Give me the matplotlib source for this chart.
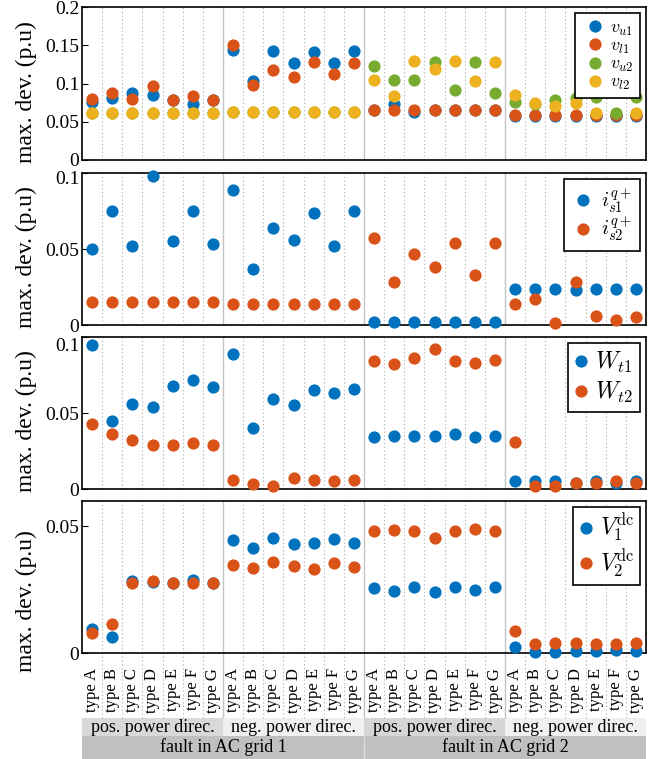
import numpy as np
import matplotlib
matplotlib.use('Agg')
import matplotlib.pyplot as plt
from matplotlib.patches import Rectangle
from matplotlib.transforms import ScaledTranslation

plt.rcParams['font.family'] = 'Liberation Serif'
plt.rcParams['mathtext.fontset'] = 'cm'

types = ['type A', 'type B', 'type C', 'type D', 'type E', 'type F', 'type G']
directions = ['pos. power direc.', 'neg. power direc.', 'pos. power direc.', 'neg. power direc.']
faults = ['fault in AC grid 1', 'fault in AC grid 2']

# max. deviations, 28 cases: (grid 1 pos, grid 1 neg, grid 2 pos, grid 2 neg) x types A-G
v_u1 = [0.076, 0.081, 0.087, 0.085, 0.078, 0.073, 0.078,
        0.144, 0.103, 0.142, 0.127, 0.141, 0.127, 0.143,
        0.065, 0.073, 0.063, 0.065, 0.065, 0.065, 0.065,
        0.058, 0.058, 0.058, 0.058, 0.058, 0.058, 0.058]
v_l1 = [0.080, 0.088, 0.080, 0.097, 0.078, 0.084, 0.078,
        0.150, 0.098, 0.117, 0.109, 0.128, 0.113, 0.127,
        0.065, 0.065, 0.065, 0.065, 0.065, 0.065, 0.065,
        0.059, 0.059, 0.059, 0.059, 0.059, 0.059, 0.059]
v_u2 = [0.061, 0.061, 0.061, 0.061, 0.061, 0.061, 0.061,
        0.063, 0.063, 0.063, 0.063, 0.063, 0.063, 0.063,
        0.123, 0.104, 0.104, 0.128, 0.092, 0.128, 0.087,
        0.076, 0.073, 0.079, 0.081, 0.082, 0.062, 0.082]
v_l2 = [0.061, 0.061, 0.061, 0.061, 0.061, 0.061, 0.061,
        0.063, 0.063, 0.063, 0.063, 0.063, 0.063, 0.063,
        0.104, 0.084, 0.130, 0.119, 0.129, 0.103, 0.128,
        0.085, 0.075, 0.071, 0.074, 0.062, 0.089, 0.062]

i_s1 = [0.050, 0.075, 0.052, 0.098, 0.055, 0.075, 0.053,
        0.089, 0.037, 0.064, 0.056, 0.074, 0.052, 0.075,
        0.002, 0.002, 0.002, 0.002, 0.002, 0.002, 0.002,
        0.024, 0.024, 0.024, 0.023, 0.024, 0.024, 0.024]
i_s2 = [0.015, 0.015, 0.015, 0.015, 0.015, 0.015, 0.015,
        0.014, 0.014, 0.014, 0.014, 0.014, 0.014, 0.014,
        0.057, 0.028, 0.047, 0.038, 0.054, 0.033, 0.054,
        0.014, 0.017, 0.001, 0.028, 0.006, 0.003, 0.005]

W_t1 = [0.095, 0.045, 0.056, 0.054, 0.068, 0.072, 0.067,
        0.089, 0.040, 0.059, 0.055, 0.065, 0.063, 0.066,
        0.034, 0.035, 0.035, 0.035, 0.036, 0.034, 0.035,
        0.005, 0.005, 0.005, 0.004, 0.005, 0.004, 0.005]
W_t2 = [0.043, 0.036, 0.032, 0.029, 0.029, 0.030, 0.029,
        0.006, 0.003, 0.002, 0.007, 0.006, 0.005, 0.006,
        0.084, 0.082, 0.086, 0.092, 0.084, 0.083, 0.085,
        0.031, 0.002, 0.002, 0.004, 0.004, 0.005, 0.004]

V1_dc = [0.0094, 0.0065, 0.0284, 0.0281, 0.0276, 0.0288, 0.0276,
         0.0445, 0.0416, 0.0455, 0.0432, 0.0435, 0.0449, 0.0435,
         0.0255, 0.0246, 0.0262, 0.0242, 0.0259, 0.0249, 0.0262,
         0.0022, 0.0004, 0.0004, 0.0007, 0.0007, 0.0013, 0.0007]
V2_dc = [0.0079, 0.0114, 0.0275, 0.0284, 0.0275, 0.0275, 0.0275,
         0.0347, 0.0334, 0.0360, 0.0344, 0.0331, 0.0357, 0.0338,
         0.0482, 0.0486, 0.0483, 0.0452, 0.0483, 0.0488, 0.0483,
         0.0085, 0.0035, 0.0039, 0.0039, 0.0037, 0.0037, 0.0039]

blue, red, green, yellow = '#0072BD', '#D95319', '#77AC30', '#EDB120'

# series, legend labels, colours, y max, y ticks, shift of top tick label (px),
# legend (fontsize, labelspacing, borderpad, handlelength, handletextpad)
panels = [
    ([v_u1, v_l1, v_u2, v_l2], [r'$v_{u1}$', r'$v_{l1}$', r'$v_{u2}$', r'$v_{l2}$'],
     [blue, red, green, yellow], 0.2, [0, 0.05, 0.1, 0.15, 0.2], 0,
     (13, 0.0, 0.35, 1.41, 0.13)),
    ([i_s1, i_s2], [r'$i_{s1}^{q+}$', r'$i_{s2}^{q+}$'], [blue, red], 0.1, [0, 0.05, 0.1], 5,
     (15, 0.0, 0.35, 1.1, 0.32)),
    ([W_t1, W_t2], [r'$W_{t1}$', r'$W_{t2}$'], [blue, red], 0.1, [0, 0.05, 0.1], 7,
     (17, 0.19, 0.3, 0.5, 0.34)),
    ([V1_dc, V2_dc], [r'$V_1^{\mathrm{dc}}$', r'$V_2^{\mathrm{dc}}$'], [blue, red], 0.06, [0, 0.05], 0,
     (17, 0.15, 0.2, 0.7, 0.24)),
]

W, H = 670, 759
fig = plt.figure(figsize=(W / 100, H / 100), dpi=100)
x = np.arange(1, 29)
left, width = 82 / W, 564 / W
tops = [7, 173, 337, 501]
bottoms = [160, 325, 489, 653]
minor_b = [b + 0.5 for b in range(1, 28) if b % 7 != 0]
major_b = [7.5, 14.5, 21.5]

for k, (series, labels, colors, ymax, yticks, shift, lg) in enumerate(panels):
    h = bottoms[k] - tops[k]
    ax = fig.add_axes([left, 1 - bottoms[k] / H, width, h / H])
    ax.vlines(minor_b, 0, 1, transform=ax.get_xaxis_transform(), colors='#b8b8b8',
              linestyles=(0, (1.2, 2.2)), linewidth=0.8, zorder=0.5)
    ax.vlines(major_b, 0, 1, transform=ax.get_xaxis_transform(), colors='#c4c4c4',
              linewidth=1.0, zorder=0.5)
    for s, lab, c in zip(series, labels, colors):
        ax.plot(x, s, 'o', color=c, markersize=8.8, markeredgewidth=0, label=lab,
                clip_on=False, zorder=3)
    ax.set_xlim(0.5, 28.5)
    ax.set_ylim(0, ymax)
    ax.set_yticks(yticks)
    ax.set_yticklabels(['%g' % t for t in yticks])
    ax.tick_params(axis='y', direction='in', length=4, labelsize=14, pad=2)
    ax.tick_params(axis='x', length=0)
    for sp in ax.spines.values():
        sp.set_linewidth(1.2)
    fs, lsp, bpad, hlen, htp = lg
    leg = ax.legend(loc='upper right', fontsize=fs, numpoints=1, handlelength=hlen,
                    handletextpad=htp, labelspacing=lsp, borderpad=bpad,
                    fancybox=False, framealpha=1, borderaxespad=0.27 * 17 / fs)
    leg.get_frame().set_edgecolor('black')
    leg.get_frame().set_linewidth(1.2)

    lbl = ax.set_ylabel('max. dev. (p.u)', fontsize=17)
    lbl.set_ha('left')
    if k < 3:
        ax.yaxis.set_label_coords(-0.08, -3 / h)
        # the panel above hides the top end of this label
        fig.add_artist(Rectangle((12 / W, 1 - (tops[k] + 13) / H), 36 / W, 18 / H,
                                 transform=fig.transFigure, facecolor='white',
                                 edgecolor='none', zorder=10))
        ax.set_xticks([])
    else:
        ax.yaxis.set_label_coords(-0.08, -19 / h)
        ax.set_xticks(x)
        ax.set_xticklabels(types * 4, rotation=90, fontsize=12)
        ax.tick_params(axis='x', pad=11)
    if shift:
        top_lbl = ax.get_yticklabels()[-1]
        top_lbl.set_transform(top_lbl.get_transform() +
                              ScaledTranslation(0, -shift / 100, fig.dpi_scale_trans))

# group bands below the bottom panel
axb = fig.add_axes([left, 0, width, 106 / H], zorder=-1)
axb.set_xlim(0.5, 28.5)
axb.set_ylim(0, 1)
axb.axis('off')
row_lo, row_hi = 23 / 106, 41 / 106
axb.vlines(minor_b, row_hi, 1, colors='#b8b8b8', linestyles=(0, (1.2, 2.2)), linewidth=0.8)
axb.vlines(major_b, row_hi, 1, colors='#c4c4c4', linewidth=1.0)
dir_colors = ['#d9d9d9', '#f0f0f0', '#d6d6d6', '#f0f0f0']
for g, name in enumerate(directions):
    x0 = 0.5 + 7 * g
    axb.axvspan(x0, x0 + 7, row_lo, row_hi, color=dir_colors[g], lw=0)
    axb.text(x0 + 3.5, (row_lo + row_hi) / 2, name, ha='center', va='center', fontsize=13)
for g, name in enumerate(faults):
    x0 = 0.5 + 14 * g
    axb.axvspan(x0, x0 + 14, 0, row_lo, color='#c0c0c0', lw=0)
    axb.text(x0 + 7, row_lo / 2, name, ha='center', va='center', fontsize=13)
axb.vlines([14.5], 0, row_lo, colors='#dedede', linewidth=1.0)

fig.savefig('out.png', dpi=100)
